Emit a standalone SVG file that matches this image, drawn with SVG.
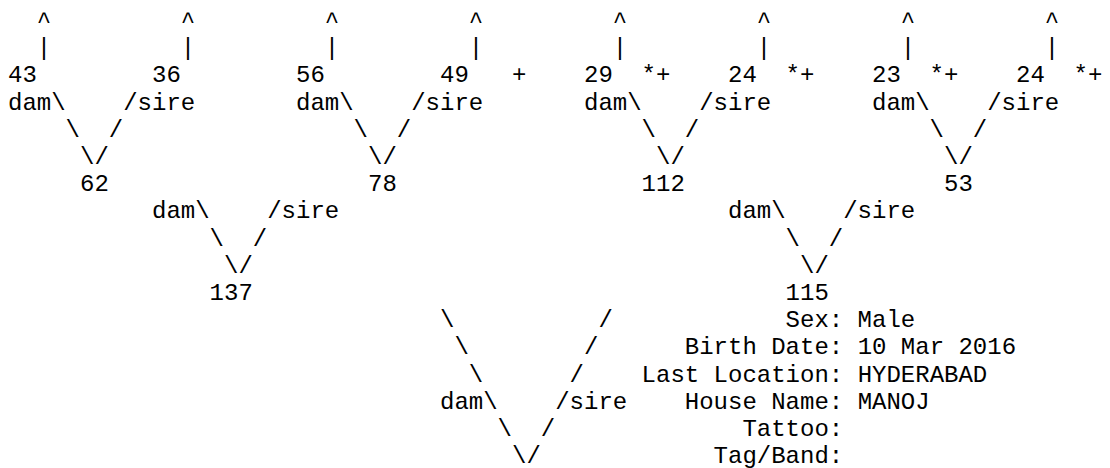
<svg xmlns="http://www.w3.org/2000/svg" width="1110" height="468" viewBox="0 0 1110 468">
<style>
text{font-family:"Liberation Mono","Courier New",monospace;font-size:24px;fill:#000;white-space:pre}
</style>
<rect x="0" y="0" width="1110" height="468" fill="#fff"/>
<g id="connectors">
<!-- row 0 carets -->
<text x="36.8" y="28">^</text><text x="180.8" y="28">^</text><text x="324.8" y="28">^</text><text x="468.8" y="28">^</text>
<text x="612.8" y="28">^</text><text x="756.8" y="28">^</text><text x="900.8" y="28">^</text><text x="1044.8" y="28">^</text>
<!-- row 1 bars -->
<text x="36.8" y="55.2">|</text><text x="180.8" y="55.2">|</text><text x="324.8" y="55.2">|</text><text x="468.8" y="55.2">|</text>
<text x="612.8" y="55.2">|</text><text x="756.8" y="55.2">|</text><text x="900.8" y="55.2">|</text><text x="1044.8" y="55.2">|</text>
<!-- row 3 -->
<text x="8" y="109.6">dam\</text><text x="123.2" y="109.6">/sire</text>
<text x="296" y="109.6">dam\</text><text x="411.2" y="109.6">/sire</text>
<text x="584" y="109.6">dam\</text><text x="699.2" y="109.6">/sire</text>
<text x="872" y="109.6">dam\</text><text x="987.2" y="109.6">/sire</text>
<!-- row 4 -->
<text x="65.6" y="136.8">\</text><text x="108.8" y="136.8">/</text>
<text x="353.6" y="136.8">\</text><text x="396.8" y="136.8">/</text>
<text x="641.6" y="136.8">\</text><text x="684.8" y="136.8">/</text>
<text x="929.6" y="136.8">\</text><text x="972.8" y="136.8">/</text>
<!-- row 5 -->
<text x="80" y="164">\/</text><text x="368" y="164">\/</text><text x="656" y="164">\/</text><text x="944" y="164">\/</text>
<!-- row 7 -->
<text x="152" y="218.4">dam\</text><text x="267.2" y="218.4">/sire</text>
<text x="728" y="218.4">dam\</text><text x="843.2" y="218.4">/sire</text>
<!-- row 8 -->
<text x="209.6" y="245.6">\</text><text x="252.8" y="245.6">/</text>
<text x="785.6" y="245.6">\</text><text x="828.8" y="245.6">/</text>
<!-- row 9 -->
<text x="224" y="272.8">\/</text><text x="800" y="272.8">\/</text>
<!-- rows 11-16 big V -->
<text x="440" y="327.2">\</text><text x="598.4" y="327.2">/</text>
<text x="454.4" y="354.4">\</text><text x="584" y="354.4">/</text>
<text x="468.8" y="381.6">\</text><text x="569.6" y="381.6">/</text>
<text x="440" y="408.8">dam\</text><text x="555.2" y="408.8">/sire</text>
<text x="497.6" y="436">\</text><text x="540.8" y="436">/</text>
<text x="512" y="463.2">\/</text>
</g>
<g id="n43"><text x="8" y="82.4">43</text></g>
<g id="n36"><text x="152" y="82.4">36</text></g>
<g id="n56"><text x="296" y="82.4">56</text></g>
<g id="n49"><text x="440" y="82.4">49</text><text x="512" y="82.4">+</text></g>
<g id="n29"><text x="584" y="82.4">29</text><text x="641.6" y="82.4">*+</text></g>
<g id="n24a"><text x="728" y="82.4">24</text><text x="785.6" y="82.4">*+</text></g>
<g id="n23"><text x="872" y="82.4">23</text><text x="929.6" y="82.4">*+</text></g>
<g id="n24b"><text x="1016" y="82.4">24</text><text x="1073.6" y="82.4">*+</text></g>
<g id="n62"><text x="80" y="191.2">62</text></g>
<g id="n78"><text x="368" y="191.2">78</text></g>
<g id="n112"><text x="641.6" y="191.2">112</text></g>
<g id="n53"><text x="944" y="191.2">53</text></g>
<g id="n137"><text x="209.6" y="300">137</text></g>
<g id="n115"><text x="785.6" y="300">115</text></g>
<g id="subject">
<text x="785.6" y="327.2">Sex: Male</text>
<text x="684.8" y="354.4">Birth Date: 10 Mar 2016</text>
<text x="641.6" y="381.6">Last Location: HYDERABAD</text>
<text x="684.8" y="408.8">House Name: MANOJ</text>
<text x="742.4" y="436">Tattoo:</text>
<text x="713.6" y="463.2">Tag/Band:</text>
</g>
</svg>
